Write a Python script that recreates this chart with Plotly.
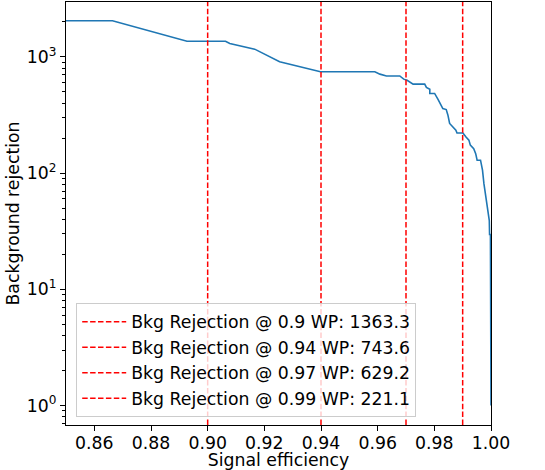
import plotly.graph_objects as go

# ROC-like curve: signal efficiency vs background rejection
signal_eff = [0.850, 0.8664, 0.8927, 0.9063, 0.9078, 0.9166, 0.9254, 0.9331, 0.9398,
              0.9590, 0.9608, 0.9631, 0.9678, 0.9692, 0.9704, 0.9725, 0.9766, 0.9772,
              0.9784, 0.9784, 0.9801, 0.9813, 0.9830, 0.9842, 0.9848, 0.9854, 0.9866,
              0.9876, 0.9880, 0.9901, 0.9911, 0.9922, 0.9927, 0.9939, 0.9946, 0.9951,
              0.9963, 0.9970, 0.9975, 0.9982, 0.9988, 0.9994, 0.9995, 0.9998, 1.0]
bkg_rej = [2045, 2045, 1363.3, 1363.3, 1304, 1165, 906, 820, 743.6,
           743.6, 710, 685, 685, 643, 629.2, 582, 582, 545,
           527, 484, 484, 430, 359, 352, 315, 267, 250,
           234, 221.1, 221.1, 205, 192, 174, 162, 147, 129,
           129, 106, 81, 62, 51, 39, 29.6, 29.6, 1.0]

# working points
wp_eff = [0.90, 0.94, 0.97, 0.99]
wp_rej = [1363.3, 743.6, 629.2, 221.1]
wp_labels = ["0.9", "0.94", "0.97", "0.99"]

x_ticks = [0.86, 0.88, 0.90, 0.92, 0.94, 0.96, 0.98, 1.00]
y_tickvals = [1, 10, 100, 1000]
y_ticktext = ["10<sup>0</sup>", "10<sup>1</sup>", "10<sup>2</sup>", "10<sup>3</sup>"]

y_range_log = [-0.168, 3.472]
x_range = [0.85, 1.00]

FONT = "DejaVu Sans"
FS = 17.3

fig = go.Figure()
fig.add_trace(go.Scatter(x=signal_eff, y=bkg_rej, mode="lines",
                         line=dict(color="#1f77b4", width=1.6),
                         showlegend=False, hoverinfo="skip"))

ymin = 10 ** y_range_log[0]
ymax = 10 ** y_range_log[1]
for e, r, lab in zip(wp_eff, wp_rej, wp_labels):
    fig.add_trace(go.Scatter(x=[e, e], y=[ymin, ymax], mode="lines",
                             line=dict(color="red", width=1.5, dash="5.5px,2.4px"),
                             name=f"Bkg Rejection @ {lab} WP: {r}"))

axis_common = dict(showline=True, linecolor="black", linewidth=1, mirror=True,
                   ticks="outside", ticklen=5, tickwidth=1, tickcolor="black",
                   showgrid=False, zeroline=False,
                   tickfont=dict(family=FONT, size=FS, color="black"))

fig.update_xaxes(range=x_range, tickvals=x_ticks, tickformat=".2f",
                 ticklabelstandoff=-3, automargin=True,
                 title=dict(text="Signal efficiency", font=dict(family=FONT, size=FS, color="black"), standoff=3),
                 **axis_common)
fig.update_yaxes(type="log", range=y_range_log, tickvals=y_tickvals, ticktext=y_ticktext,
                 minor=dict(ticks="outside", ticklen=3, tickcolor="black", dtick="D1", showgrid=False),
                 title=dict(text="Background rejection", font=dict(family=FONT, size=FS, color="black"), standoff=2),
                 **axis_common)

fig.update_layout(
    width=545, height=470,
    margin=dict(l=66, r=54, t=2, b=45, autoexpand=False),
    paper_bgcolor="white", plot_bgcolor="white",
    font=dict(family=FONT, size=FS, color="black"),
    legend=dict(x=0.024, y=0.019, xanchor="left", yanchor="bottom",
                bgcolor="rgba(255,255,255,0.8)", bordercolor="#cccccc", borderwidth=1,
                font=dict(family=FONT, size=FS, color="black"),
                itemwidth=44, tracegroupgap=0),
)

fig.write_html("out.html",
               config={"displayModeBar": False},
               post_script="document.body.style.margin='0';document.body.style.padding='0';")
